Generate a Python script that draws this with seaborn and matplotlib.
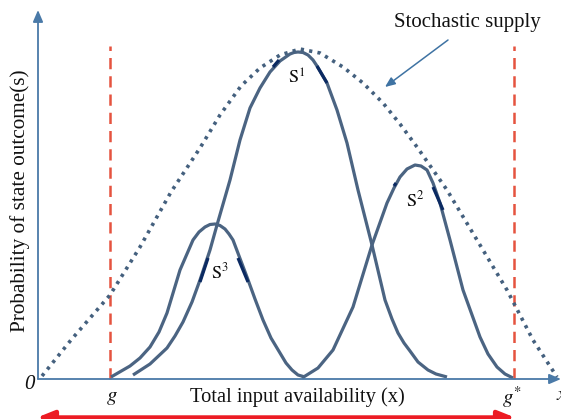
import matplotlib
matplotlib.use("Agg")
import matplotlib.pyplot as plt
import seaborn as sns
import pandas as pd

# ---- data (x = input availability, y = probability, arbitrary units) ----
supply_x = [4, 33, 72, 102, 133, 162, 182, 203, 222, 242, 262, 282, 305, 325, 345, 362, 379, 409, 439, 469, 495, 519]
supply_y = [3, 39, 84, 132, 187, 231, 264, 293, 311, 324, 330, 326, 312, 296, 276, 255, 232, 189, 139, 89, 39, 2]

s1_x = [95, 112, 129, 137, 145, 154, 162, 172, 179, 192, 202, 212, 222, 232, 242, 252, 256, 260, 265, 270, 275,
        279, 289, 299, 309, 320, 334, 347, 354, 360, 366, 372, 380, 390, 398, 409]
s1_y = [4, 15, 31, 43, 57, 77, 99, 129, 154, 199, 239, 271, 291, 307, 318, 325, 326.5, 327, 326.5, 324, 319,
        313, 296, 269, 236, 189, 134, 79, 60, 46, 36, 28, 17, 9, 5, 2]

s2_x = [264, 280, 295, 315, 334, 349, 356, 362, 369, 377, 383, 389, 395, 402, 412, 425, 442, 450, 459, 467, 475]
s2_y = [1, 11, 29, 72, 134, 176, 191, 202, 210, 214, 213, 209, 196, 176, 139, 89, 42, 25, 12, 5, 1]

s3_x = [73, 92, 102, 112, 121, 129, 142, 155, 161, 167, 172, 177, 182, 187, 191, 195, 209, 217, 225, 233, 242,
        248, 254, 260, 267]
s3_y = [2, 13, 21, 32, 47, 66, 109, 139, 147, 152, 154.5, 155, 153.5, 150, 145, 139, 102, 80, 59, 41, 26,
        16, 9, 4, 2]

# short highlighted pieces on the curves
hl_x = [[235, 241], [279, 289], [162, 170], [200, 210], [395, 405], [356, 358]]
hl_y = [[312, 319], [313, 296], [97, 121], [121, 97], [192, 169], [193, 196]]

g_low, g_high = 72, 476
curve_labels = [r"$\mathrm{S}^{1}$", r"$\mathrm{S}^{2}$", r"$\mathrm{S}^{3}$"]
label_x = [259, 377, 182]
label_y = [301, 179, 107]

# ---- figure ----
sns.set_style("white")
plt.rcParams["mathtext.fontset"] = "stix"
plt.rcParams["font.family"] = ["Liberation Serif", "DejaVu Serif"]

fig = plt.figure(figsize=(5.61, 4.19), dpi=100)
ax = fig.add_axes([0, 0, 1, 1])
ax.set_xlim(-38, 523)
ax.set_ylim(-40, 379)
ax.axis("off")

curve_col = "#4b6482"
dark_col = "#0b2a62"
axis_col = "#4a7aa8"
red_dash = "#e5533f"
red_arrow = "#ec1c24"

df = pd.concat([
    pd.DataFrame({"x": s1_x, "y": s1_y, "curve": "S1"}),
    pd.DataFrame({"x": s2_x, "y": s2_y, "curve": "S2"}),
    pd.DataFrame({"x": s3_x, "y": s3_y, "curve": "S3"}),
], ignore_index=True)
sns.lineplot(data=df, x="x", y="y", hue="curve", units="curve", estimator=None, sort=False,
             palette=[curve_col] * 3, lw=2.3, legend=False, ax=ax,
             solid_capstyle="butt", solid_joinstyle="round")

for hx, hy in zip(hl_x, hl_y):
    ax.plot(hx, hy, color=dark_col, lw=2.3, solid_capstyle="butt", zorder=3)

env = pd.DataFrame({"x": supply_x, "y": supply_y})
sns.lineplot(data=env, x="x", y="y", sort=False, estimator=None, color="#44607e",
             lw=2.6, dashes=False, ax=ax, linestyle=(0, (0.9, 1.45)), dash_capstyle="butt")

# red dashed bounds
for gx in (g_low, g_high):
    ax.plot([gx, gx], [0, 333], color=red_dash, lw=1.8, linestyle=(0, (4.5, 2.8)), zorder=1)

# axes with arrows
ax.annotate("", xy=(523, 0), xytext=(0, 0),
            arrowprops=dict(arrowstyle="-|>,head_length=0.7,head_width=0.3", color=axis_col, lw=1.3,
                            shrinkA=0, shrinkB=0))
ax.annotate("", xy=(0, 369), xytext=(0, 0),
            arrowprops=dict(arrowstyle="-|>,head_length=0.7,head_width=0.3", color=axis_col, lw=1.3,
                            shrinkA=0, shrinkB=0))

# red double arrow
ax.annotate("", xy=(-1, -38.5), xytext=(477, -38.5),
            arrowprops=dict(arrowstyle="<|-|>,head_length=1.0,head_width=0.4", color=red_arrow, lw=3.2,
                            shrinkA=0, shrinkB=0), annotation_clip=False)

# stochastic supply pointer
ax.annotate("", xy=(347, 292), xytext=(410, 339),
            arrowprops=dict(arrowstyle="-|>,head_length=0.6,head_width=0.25", color="#3f73a3", lw=1.1,
                            shrinkA=0, shrinkB=0))
ax.text(429, 357, "Stochastic supply", fontsize=15, ha="center", va="center", color="#111111")

for lab, lx, ly in zip(curve_labels, label_x, label_y):
    ax.text(lx, ly, lab, fontsize=13, ha="center", va="center", color="#111111")

ax.text(259, -18, "Total input availability (x)", fontsize=14.8, ha="center", va="center", color="#111111")
ax.text(-18, 178, "Probability of state outcome(s)", fontsize=15.3, ha="center", va="center",
        rotation=90, color="#111111")
ax.text(-9, -5, "0", fontsize=15, fontstyle="italic", ha="center", va="center", color="#111111")
ax.text(74, -18, r"$g$", fontsize=15, ha="center", va="center", color="#111111")
ax.text(474, -18, r"$g^{*}$", fontsize=15, ha="center", va="center", color="#111111")
ax.text(518, -16, r"$x$", fontsize=15, ha="left", va="center", color="#111111")

fig.savefig("out.png", dpi=100)
